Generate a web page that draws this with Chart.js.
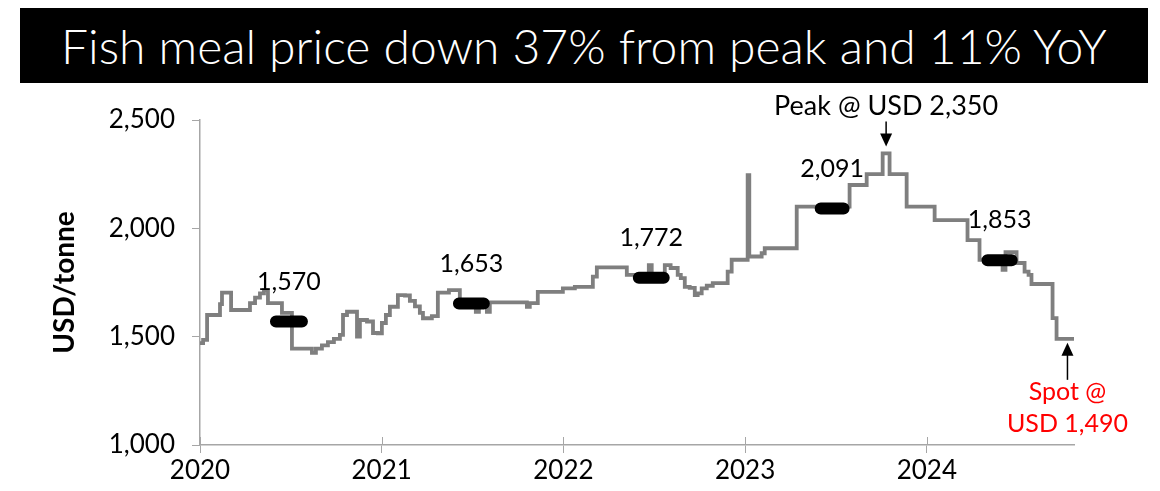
<!DOCTYPE html>
<html>
<head>
<meta charset="utf-8">
<script src="https://cdn.jsdelivr.net/npm/chart.js@4.4.1/dist/chart.umd.min.js"></script>
<style>
  body { margin: 0; background: #fff; }
  #wrap { position: relative; width: 1160px; height: 491px; overflow: hidden; }
  #title {
    position: absolute; left: 20px; top: 8px; width: 1128px; height: 75px;
    background: #000; color: #fff; text-align: center;
    font: 300 48px "Lato", sans-serif; line-height: 75px; white-space: nowrap;
  }
  #priceChart { position: absolute; left: 0; top: 0; }
</style>
</head>
<body>
<div id="wrap">
  <div id="title">Fish meal price down 37% from peak and 11% YoY</div>
  <canvas id="priceChart" width="1160" height="491"></canvas>
</div>
<script>
// Fish meal price, USD/tonne (date as fractional year, value from that date on)
const priceDates = [
  2020.000, 2020.017, 2020.039, 2020.110, 2020.121, 2020.171, 2020.275, 2020.303, 2020.330, 2020.352,
  2020.374, 2020.451, 2020.506, 2020.616, 2020.638, 2020.671, 2020.704, 2020.737, 2020.770, 2020.787,
  2020.809, 2020.864, 2020.880, 2020.919, 2020.952, 2020.979, 2021.001, 2021.023, 2021.045, 2021.089,
  2021.128, 2021.155, 2021.183, 2021.210, 2021.227, 2021.276, 2021.309, 2021.370, 2021.430, 2021.518,
  2021.535, 2021.579, 2021.595, 2021.799, 2021.815, 2021.859, 2021.997, 2022.063, 2022.162, 2022.184,
  2022.349, 2022.470, 2022.486, 2022.558, 2022.590, 2022.629, 2022.646, 2022.668, 2022.695, 2022.723,
  2022.739, 2022.761, 2022.789, 2022.822, 2022.904, 2022.926, 2023.014, 2023.023, 2023.091, 2023.108,
  2023.284, 2023.575, 2023.669, 2023.757, 2023.795, 2023.889, 2024.043, 2024.224, 2024.290, 2024.417,
  2024.433, 2024.494, 2024.538, 2024.560, 2024.576, 2024.692, 2024.714, 2024.810
];
const priceValues = [
  1470, 1485, 1600, 1650, 1703, 1623, 1655, 1680, 1700, 1715,
  1655, 1610, 1445, 1425, 1445, 1460, 1475, 1490, 1508, 1600,
  1615, 1500, 1577, 1570, 1517, 1515, 1563, 1600, 1638, 1692,
  1690, 1665, 1640, 1610, 1585, 1595, 1703, 1715, 1658, 1615,
  1658, 1615, 1658, 1638, 1655, 1707, 1723, 1730, 1777, 1820,
  1785, 1830, 1790, 1830, 1817, 1785, 1770, 1730, 1725, 1692,
  1700, 1723, 1735, 1747, 1800, 1855, 2246, 1870, 1885, 1908,
  2100, 2200, 2250, 2346, 2250, 2100, 2038, 1946, 1855, 1808,
  1890, 1840, 1800, 1785, 1743, 1586, 1490, 1490
];

// yearly averages, drawn as short black bars mid-year
const avgFrom = [2020.418, 2021.425, 2022.415, 2023.416, 2024.334];
const avgTo = [2020.561, 2021.562, 2022.552, 2023.542, 2024.467];
const avgValues = [1570, 1653, 1772, 2091, 1853];

const yearTicks = [2020, 2021, 2022, 2023, 2024];
const valueTicks = [1000, 1500, 2000, 2500];

const peakDate = 2023.776;
const peakValue = 2350;
const spotDate = 2024.774;
const spotValue = 1490;

const FONT = "Lato, 'Open Sans', sans-serif";
const AXIS_GREY = "#a6a6a6";

const priceData = priceDates.map((d, i) => ({ x: d, y: priceValues[i] }));
const avgData = [];
avgValues.forEach((v, i) => {
  avgData.push({ x: avgFrom[i], y: v }, { x: avgTo[i], y: v }, { x: avgTo[i], y: null });
});

function fmt(v) {
  return v.toLocaleString("en-US");
}

function arrow(ctx, x, yFrom, yTo) {
  const dir = yTo > yFrom ? 1 : -1;
  ctx.save();
  ctx.strokeStyle = "#000";
  ctx.fillStyle = "#000";
  ctx.lineWidth = 1.5;
  ctx.beginPath();
  ctx.moveTo(x, yFrom);
  ctx.lineTo(x, yTo - dir * 10);
  ctx.stroke();
  ctx.beginPath();
  ctx.moveTo(x, yTo);
  ctx.lineTo(x - 6, yTo - dir * 13);
  ctx.lineTo(x + 6, yTo - dir * 13);
  ctx.closePath();
  ctx.fill();
  ctx.restore();
}

// labels, arrows and the year ticks crossing the x axis
const notesPlugin = {
  id: "notes",
  afterDatasetsDraw(chart) {
    const { ctx, scales: { x, y } } = chart;
    ctx.save();
    ctx.textAlign = "center";
    ctx.textBaseline = "middle";
    ctx.fillStyle = "#000";
    ctx.font = "25px " + FONT;
    avgValues.forEach((v, i) => {
      const cx = x.getPixelForValue((avgFrom[i] + avgTo[i]) / 2);
      ctx.fillText(fmt(v), cx, y.getPixelForValue(v) - 40);
    });

    // peak
    const px = x.getPixelForValue(peakDate);
    const py = y.getPixelForValue(peakValue);
    ctx.textBaseline = "alphabetic";
    ctx.font = "27px " + FONT;
    ctx.fillText("Peak @ USD " + fmt(peakValue), px, py - 38);
    arrow(ctx, px, py - 31, py - 6);

    // spot
    const sx = x.getPixelForValue(spotDate);
    const sy = y.getPixelForValue(spotValue);
    arrow(ctx, sx, sy + 41, sy + 4);
    ctx.font = "25px " + FONT;
    ctx.fillStyle = "#ff0000";
    ctx.fillText("Spot @", sx, sy + 61);
    ctx.fillText("USD " + fmt(spotValue), sx, sy + 93);

    // year ticks above the axis line
    ctx.strokeStyle = AXIS_GREY;
    ctx.lineWidth = 1;
    yearTicks.forEach(t => {
      const tx = Math.round(x.getPixelForValue(t)) + 0.5;
      ctx.beginPath();
      ctx.moveTo(tx, y.bottom);
      ctx.lineTo(tx, y.bottom - 8);
      ctx.stroke();
    });
    ctx.restore();
  }
};

new Chart(document.getElementById("priceChart"), {
  type: "line",
  data: {
    datasets: [
      {
        label: "Yearly average",
        data: avgData,
        borderColor: "#000",
        borderWidth: 12,
        borderCapStyle: "round",
        pointRadius: 0,
        spanGaps: false,
        order: 0
      },
      {
        label: "Fish meal price",
        data: priceData,
        borderColor: "#7f7f7f",
        borderWidth: 3.8,
        stepped: true,
        pointRadius: 0,
        order: 1
      }
    ]
  },
  options: {
    responsive: false,
    animation: false,
    devicePixelRatio: 1,
    layout: { padding: { left: 0, right: 86, top: 120, bottom: 0 } },
    plugins: {
      legend: { display: false },
      tooltip: { enabled: false }
    },
    scales: {
      x: {
        type: "linear",
        min: 2020,
        max: 2024.81,
        afterBuildTicks: s => { s.ticks = yearTicks.map(v => ({ value: v })); },
        afterFit: s => { s.height = 46; },
        border: { color: AXIS_GREY, width: 1.5 },
        grid: { drawOnChartArea: false, color: AXIS_GREY, tickLength: 8 },
        ticks: {
          color: "#000",
          font: { family: FONT, size: 26 },
          padding: 2,
          maxRotation: 0,
          callback: v => String(v)
        }
      },
      y: {
        min: 1000,
        max: 2500,
        afterBuildTicks: s => { s.ticks = valueTicks.map(v => ({ value: v })); },
        afterFit: s => { s.width = 200; },
        border: { color: AXIS_GREY, width: 1.5 },
        grid: { drawOnChartArea: false, color: AXIS_GREY, tickLength: 8 },
        title: {
          display: true,
          text: "USD/tonne",
          color: "#000",
          font: { family: FONT, size: 28, weight: "bold" },
          padding: { top: 48, bottom: 0 }
        },
        ticks: {
          color: "#000",
          font: { family: FONT, size: 26 },
          padding: 17,
          callback: v => fmt(v)
        }
      }
    }
  },
  plugins: [notesPlugin]
});
</script>
</body>
</html>
